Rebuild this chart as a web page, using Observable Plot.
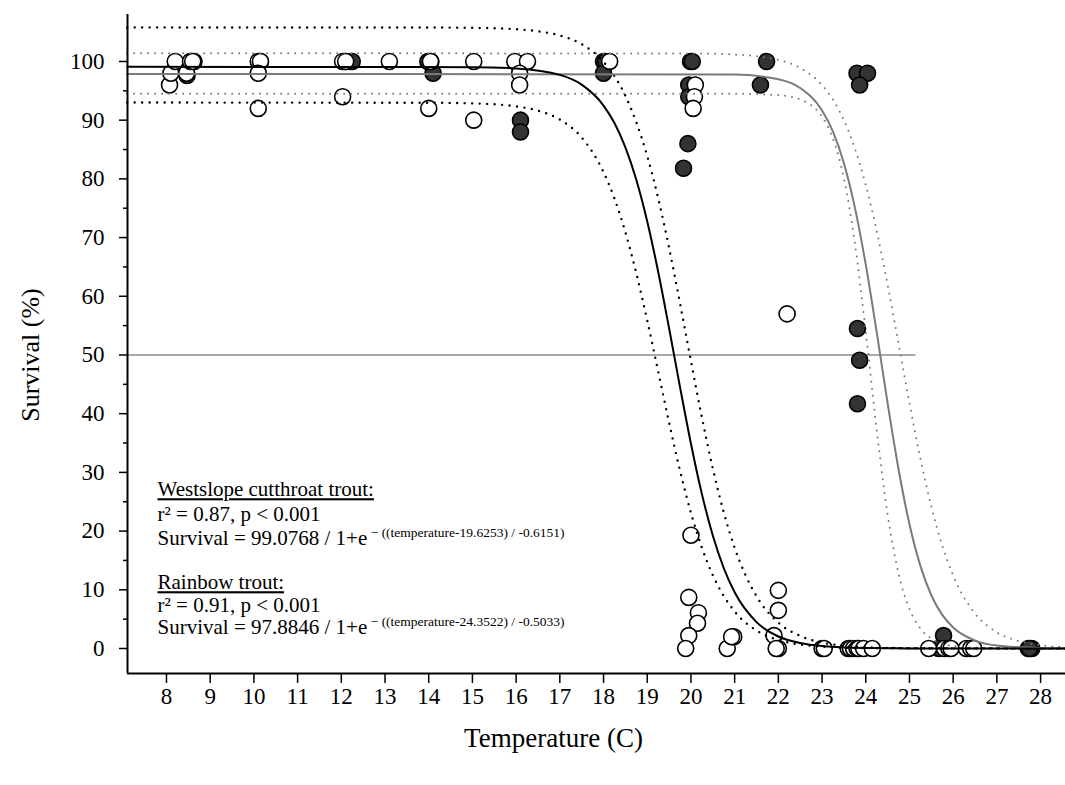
<!DOCTYPE html>
<html><head><meta charset="utf-8">
<script src="https://cdn.jsdelivr.net/npm/d3@7"></script>
<script src="https://cdn.jsdelivr.net/npm/@observablehq/plot@0.6"></script>
<style>body{margin:0;background:#fff}</style>
</head><body><div id="chart"></div>
<script>
// ---- observations: Westslope cutthroat trout (open) ----
const wctTemp = [8.07, 8.1, 8.2, 8.46, 8.55, 8.6, 10.1, 10.15, 10.1, 10.1, 12.03, 12.1, 12.03, 13.1, 14.04, 14.0, 15.03, 15.03, 15.97, 16.26, 16.08, 16.08, 18.14,
  20.1, 20.08, 20.05, 20.0, 19.95, 20.17, 20.15, 19.95, 19.88, 20.83, 20.98, 20.93,
  22.2, 22.0, 22.0, 21.9, 22.0, 21.95, 23.0, 23.05, 23.6, 23.65, 23.72, 23.8, 23.84, 23.95, 24.15,
  25.44, 25.8, 25.9, 25.95, 26.3, 26.4, 26.47];
const wctSurv = [96, 98, 100, 98, 100, 100, 100, 100, 98, 92, 100, 100, 94, 100, 100, 92, 100, 90, 100, 100, 98, 96, 100,
  96, 94, 92, 19.3, 8.7, 6.1, 4.3, 2.2, 0, 0, 2.0, 2.0,
  57, 9.9, 6.5, 2.2, 0, 0, 0, 0, 0, 0, 0, 0, 0, 0, 0,
  0, 0, 0, 0, 0, 0, 0];
// ---- observations: Rainbow trout (filled) ----
const rbtTemp = [8.55, 8.63, 8.47, 10.15, 12.1, 12.2, 12.25, 13.98, 14.1, 14.05, 16.1, 16.1, 18.0, 18.05, 18.0,
  19.99, 20.03, 19.95, 19.95, 19.93, 19.83, 21.73, 21.59, 23.8, 24.04, 23.86, 23.81, 23.86, 23.81,
  25.78, 25.67, 27.72, 27.8, 27.75];
const rbtSurv = [100, 100, 97.6, 100, 100, 100, 100, 100, 98, 100, 90, 88, 100, 100, 98,
  100, 100, 96, 94, 86, 81.8, 100, 96, 98, 98, 96, 54.5, 49.1, 41.7,
  2.2, 0, 0, 0, 0];

// ---- fitted curves and confidence bands ----
const wctFitT = [7.1, 15, 16, 17, 17.5, 18, 18.25, 18.5, 18.75, 19, 19.25, 19.5, 19.75, 20, 20.25, 20.5, 20.75, 21, 21.5, 22, 22.5, 23, 24, 25, 28.6];
const wctFitV = [99.08, 99.03, 98.81, 97.71, 96.05, 92.49, 89.51, 85.37, 79.84, 72.74, 64.19, 54.55, 44.53, 34.89, 26.34, 19.24, 13.71, 9.57, 4.49, 2.04, 0.92, 0.41, 0.08, 0.02, 0];
const wctUpT = [7.1, 14, 15, 16, 16.5, 17, 17.5, 18, 18.5, 19, 19.25, 19.5, 19.75, 20, 20.25, 20.5, 20.75, 21, 21.5, 22, 22.5, 23, 24, 25, 28.6];
const wctUpV = [105.8, 105.78, 105.73, 105.49, 105.14, 104.42, 102.94, 99.94, 94.15, 83.9, 76.72, 68.24, 58.8, 48.96, 39.39, 30.67, 23.22, 17.16, 8.9, 4.41, 2.14, 1.03, 0.23, 0.05, 0];
const wctLoT = [7.1, 14, 15, 16, 16.5, 17, 17.5, 18, 18.25, 18.5, 18.75, 19, 19.25, 19.5, 19.75, 20, 20.25, 20.5, 21, 21.5, 22, 23, 24, 28.6];
const wctLoV = [93.0, 92.97, 92.86, 92.35, 91.62, 90.11, 87.05, 81.15, 76.65, 70.92, 63.92, 55.88, 47.21, 38.48, 30.29, 23.12, 17.17, 12.49, 6.31, 3.07, 1.46, 0.33, 0.07, 0];

const rbtFitT = [7.1, 21, 22, 22.5, 23, 23.25, 23.5, 23.75, 24, 24.25, 24.5, 24.75, 25, 25.25, 25.5, 25.75, 26, 26.5, 27, 28, 28.6];
const rbtFitV = [97.88, 97.76, 96.97, 95.47, 91.63, 88.03, 82.67, 75.15, 65.38, 53.88, 41.79, 30.54, 21.16, 14.07, 9.07, 5.73, 3.57, 1.35, 0.51, 0.07, 0.02];
const rbtUpT = [7.1, 20, 21, 21.5, 22, 22.5, 23, 23.25, 23.5, 23.75, 24, 24.25, 24.5, 24.75, 25, 25.25, 25.5, 25.75, 26, 26.5, 27, 27.5, 28, 28.6];
const rbtUpV = [101.4, 101.35, 101.17, 100.89, 100.27, 98.9, 95.97, 93.47, 89.98, 85.21, 78.96, 71.14, 61.96, 51.92, 41.8, 32.35, 24.18, 17.54, 12.43, 5.95, 2.75, 1.25, 0.56, 0.21];
const rbtLoT = [7.1, 21, 22, 22.5, 22.75, 23, 23.25, 23.5, 23.75, 24, 24.25, 24.5, 24.75, 25, 25.25, 25.5, 26, 27, 28.6];
const rbtLoV = [94.5, 94.49, 94.27, 93.53, 92.54, 90.59, 86.84, 80.08, 69.08, 53.95, 37.28, 22.85, 12.76, 6.71, 3.41, 1.7, 0.41, 0.02, 0];

const refLevel = [50];
const refStart = 7.108, refEnd = 25.15;

// ---- axes ----
const xDomain = [7.108, 28.57];
const yDomain = [-4.26, 108];
const xTicks = d3.range(8, 29, 1);
const yMajor = d3.range(0, 101, 10);
const yMinor = d3.range(5, 100, 10);

// ---- texts ----
const xTitle = "Temperature (C)";
const yTitle = "Survival (%)";
const annoTitles = ["Westslope cutthroat trout:", "Rainbow trout:"];
const annoStats = ["r² = 0.87, p < 0.001", "r² = 0.91, p < 0.001"];
const annoEqMain = ["Survival = 99.0768 / 1+e", "Survival = 97.8846 / 1+e"];
const annoEqExp = ["− ((temperature-19.6253) / -0.6151)", "− ((temperature-24.3522) / -0.5033)"];

const pts = (T, V) => T.map((t, i) => ({t, v: V[i]}));
const wctPts = pts(wctTemp, wctSurv), rbtPts = pts(rbtTemp, rbtSurv);

const dotted = (T, V, color, w, gap) => Plot.line(pts(T, V), {x: "t", y: "v", curve: "monotone-x", stroke: color, strokeWidth: w, strokeDasharray: `0,${gap}`, strokeLinecap: "round"});
const solid = (T, V, color) => Plot.line(pts(T, V), {x: "t", y: "v", curve: "monotone-x", stroke: color, strokeWidth: 2});

const annoLine = (txt, dy) => Plot.text([txt], {frameAnchor: "bottom-left", text: d => d, dx: 30, dy, textAnchor: "start", lineAnchor: "middle", fontSize: 21, fill: "black"});

const plot = Plot.plot({
  width: 1065, height: 785,
  marginLeft: 127, marginRight: 0, marginTop: 14, marginBottom: 112,
  style: {fontFamily: "'Liberation Serif', 'Times New Roman', serif", fontSize: "23px", background: "white", color: "black"},
  x: {domain: xDomain},
  y: {domain: yDomain},
  marks: [
    Plot.ruleY(refLevel, {x1: refStart, x2: refEnd, stroke: "#8c8c8c", strokeWidth: 1.3}),
    Plot.dot(rbtPts, {x: "t", y: "v", r: 8, fill: "#333333", stroke: "black", strokeWidth: 1.6}),
    Plot.dot(wctPts, {x: "t", y: "v", r: 8, fill: "white", stroke: "black", strokeWidth: 1.6}),
    dotted(rbtUpT, rbtUpV, "#777", 2, 7),
    dotted(rbtLoT, rbtLoV, "#777", 2, 7),
    dotted(wctUpT, wctUpV, "black", 2.4, 7.5),
    dotted(wctLoT, wctLoV, "black", 2.4, 7.5),
    solid(rbtFitT, rbtFitV, "#7a7a7a"),
    solid(wctFitT, wctFitV, "black"),
    Plot.axisY({ticks: yMajor, tickSize: 8, tickPadding: 15, label: null, fontSize: 23, strokeWidth: 1.5}),
    Plot.axisY({ticks: yMinor, tickSize: 4, text: null, label: null, strokeWidth: 1.5}),
    Plot.axisX({ticks: xTicks, tickSize: 10, tickPadding: 4, label: null, fontSize: 23, strokeWidth: 1.5, tickFormat: d => String(d)}),
    Plot.ruleX([xDomain[0]], {stroke: "black", strokeWidth: 2}),
    Plot.ruleY([yDomain[0]], {stroke: "black", strokeWidth: 2}),
    Plot.text([xTitle], {frameAnchor: "bottom", text: d => d, dx: -43, dy: 73, fontSize: 27}),
    Plot.text([yTitle], {frameAnchor: "left", text: d => d, dx: -97, dy: 11, rotate: -90, textAnchor: "middle", fontSize: 26}),
    annoLine(annoTitles[0], -184),
    annoLine(annoStats[0], -159),
    annoLine(annoEqMain[0], -135),
    annoLine(annoTitles[1], -91),
    annoLine(annoStats[1], -68),
    annoLine(annoEqMain[1], -46)
  ]
});

d3.select(plot).selectAll("text").each(function() {
  const t = this.textContent;
  const i = annoEqMain.indexOf(t);
  if (i >= 0) {
    d3.select(this).append("tspan").attr("font-size", 13.5).attr("dy", -8).text(" " + annoEqExp[i]);
  }
  if (annoTitles.includes(t)) d3.select(this).attr("text-decoration", "underline");
});

document.getElementById("chart").appendChild(plot);
</script>
</body></html>
